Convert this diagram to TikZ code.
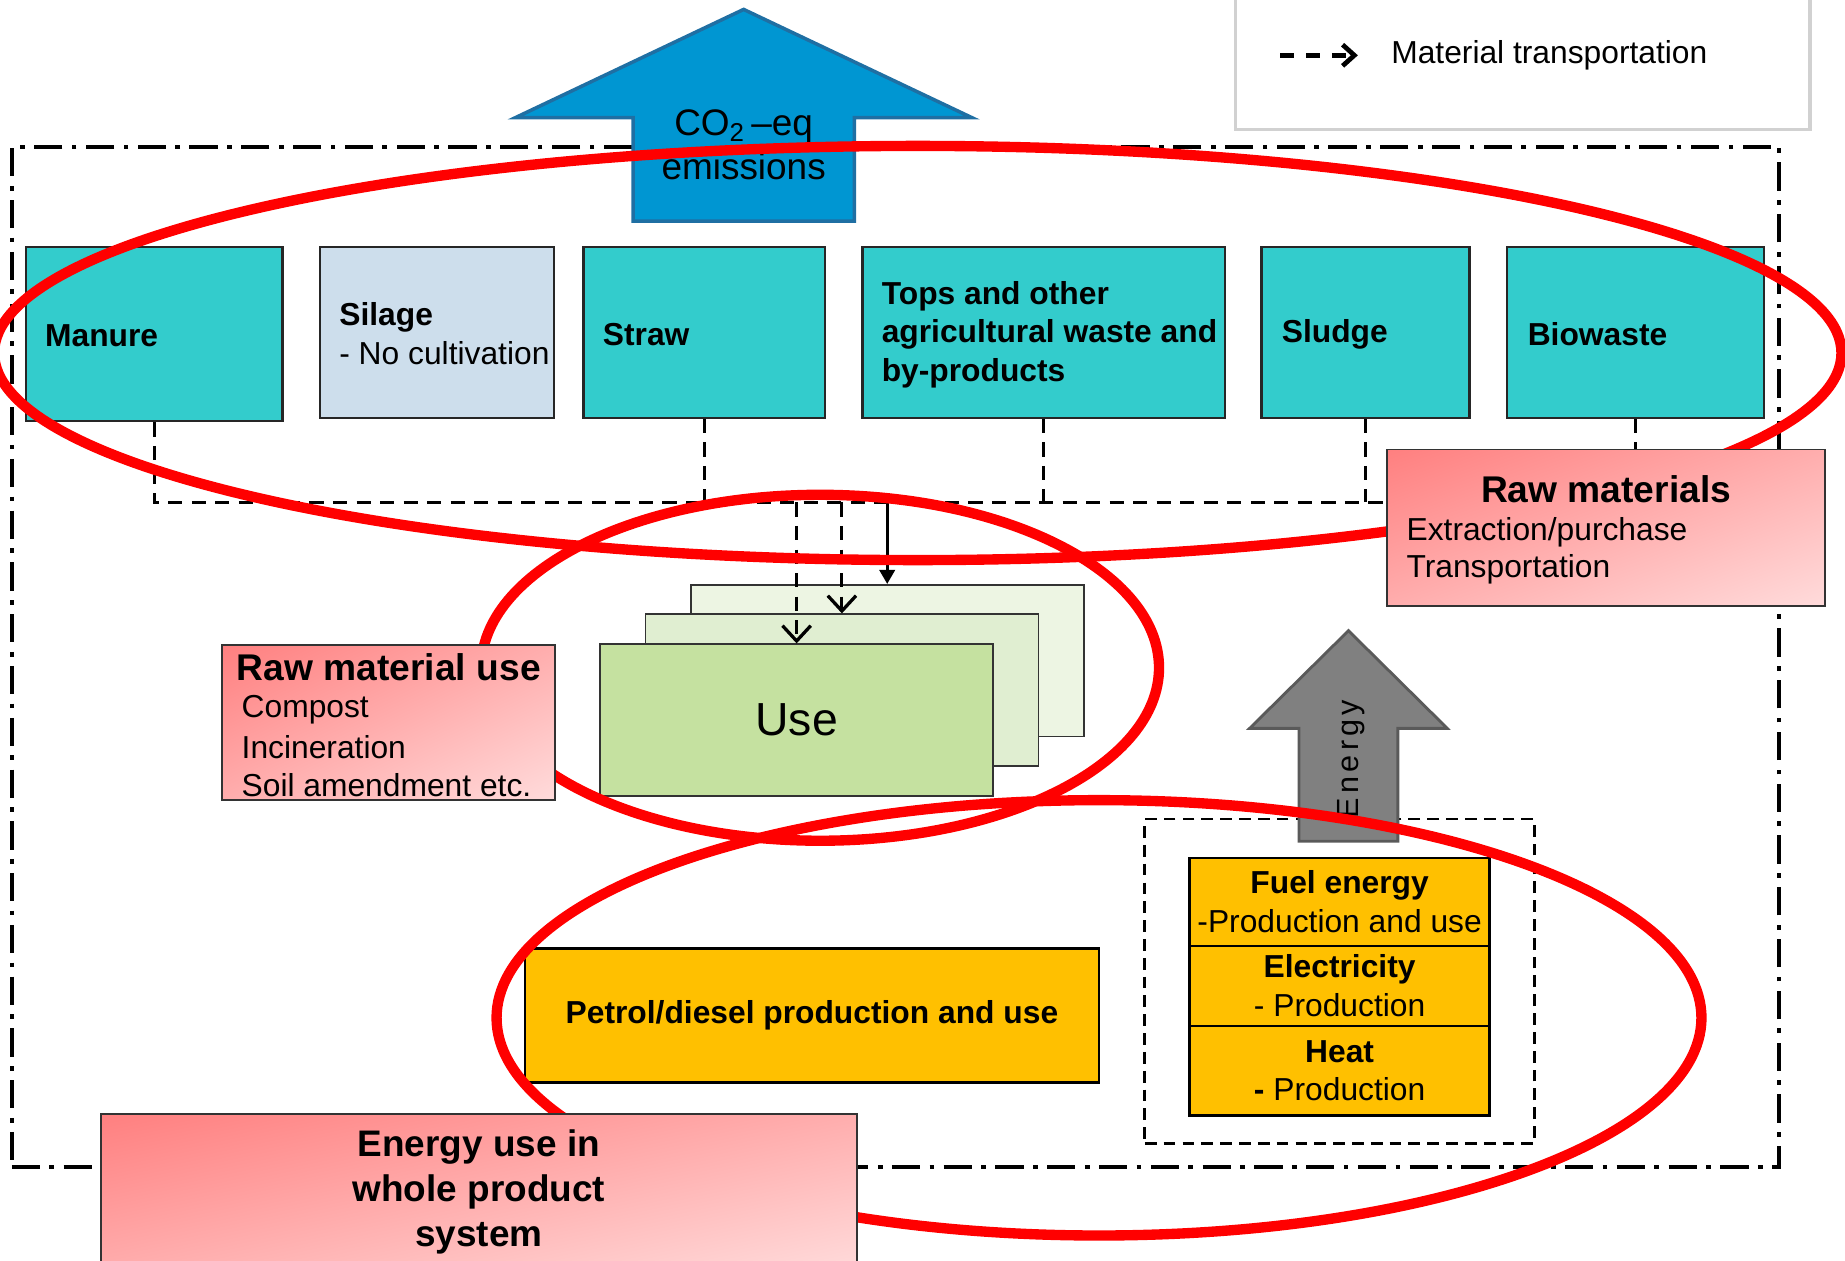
\documentclass[tikz,border=0pt]{standalone}
\usepackage{fontspec}
\setmainfont{Liberation Sans}
\newfontfamily\spacedfont[LetterSpace=14]{Liberation Sans}
\usetikzlibrary{arrows.meta}
\definecolor{tealA}{HTML}{33CCCC}
\definecolor{silageC}{HTML}{CDDEEC}
\definecolor{amberC}{HTML}{FFC000}
\definecolor{useA}{HTML}{C5E1A0}
\definecolor{useB}{HTML}{E0EED1}
\definecolor{useC}{HTML}{EDF5E3}
\definecolor{blueA}{HTML}{0096D2}
\definecolor{blueB}{HTML}{1F6FA3}
\definecolor{grayA}{HTML}{808080}
\definecolor{grayB}{HTML}{5A5A5A}
\definecolor{ringC}{HTML}{FF0000}
% diagonal pink gradient, corner to corner (top-left dark, bottom-right light)
\pgfdeclarefunctionalshading{pinkgrad}{\pgfpoint{0bp}{0bp}}{\pgfpoint{100bp}{100bp}}{}{
  sub 50 add 100 div
  dup 0 lt {pop 0} if dup 1 gt {pop 1} if
  0.36 mul 0.5 add dup 1 3 1 roll
}
\begin{document}
\begin{tikzpicture}[x=0.5pt,y=-0.5pt,
  base/.style={font=\fontsize{13.5}{16.5}\selectfont, inner sep=0pt},
  basebf/.style={font=\fontsize{13.5}{16.5}\selectfont\bfseries, inner sep=0pt},
  title/.style={font=\fontsize{15.8}{19.3}\selectfont\bfseries, inner sep=0pt},
  topbox/.style={draw=black!85, line width=1pt, fill=tealA, inner sep=0pt},
  usebox/.style={draw=black!80, line width=0.7pt, inner sep=0pt, minimum width=167pt, minimum height=64.5pt},
  amberbox/.style={draw=black, line width=1pt, fill=amberC, inner sep=0pt, align=center,
    font=\fontsize{13.5}{16.5}\selectfont, minimum width=127.5pt},
  pinkbox/.style={draw=black!80, line width=0.8pt, shading=pinkgrad, inner sep=0pt},
  frame/.style={draw=black, line width=1.5pt, dash pattern=on 12pt off 4pt on 2pt off 4pt, inner sep=0pt},
  conn/.style={draw=black, line width=1.3pt, dash pattern=on 6pt off 4pt},
  vtip/.style={-{Straight Barb[length=6.5pt,width=12pt,line width=1.4pt]}},
  ring/.style={draw=ringC, line width=4.4pt},
]
\useasboundingbox (0,0) rectangle (1568,1071);

% outer dash-dot frame
\node[frame, minimum width=751pt, minimum height=433.5pt] (frame) at (761,558.5) {};

% legend
\node[draw=black!18, line width=1.6pt, fill=white, minimum width=244pt, minimum height=62pt, inner sep=0pt] (legend) at (1294,48) {};
\coordinate (lgA) at (1088,47);
\coordinate (lgB) at (1154,47);
\draw[line width=2pt, dash pattern=on 6pt off 5pt, -{Straight Barb[length=5pt,width=9pt,line width=2pt]}] (lgA) -- (lgB);
\node[base, anchor=west] (lgtext) at (1182,47) {Material transportation};

% top boxes
\node[topbox, minimum width=109pt, minimum height=74pt] (manure) at (131,284) {};
\node[topbox, fill=silageC, minimum width=99.5pt, minimum height=72.5pt] (silage) at (371.5,282.5) {};
\node[topbox, minimum width=102.5pt, minimum height=72.5pt] (straw) at (598.5,282.5) {};
\node[topbox, minimum width=154pt, minimum height=72.5pt] (tops) at (887,282.5) {};
\node[topbox, minimum width=88.5pt, minimum height=72.5pt] (sludge) at (1160.5,282.5) {};
\node[topbox, minimum width=109pt, minimum height=72.5pt] (bio) at (1390,282.5) {};

\node[basebf, anchor=west] (manureT) at (38,285) {Manure};
\node[base, anchor=west, align=left] (silageT) at (288,283.5) {\textbf{Silage}\\- No cultivation};
\node[basebf, anchor=west] (strawT) at (512,284) {Straw};
\node[basebf, anchor=west, align=left] (topsT) at (749,284.5) {Tops and other\\agricultural waste and\\by-products};
\node[basebf, anchor=west] (sludgeT) at (1089,284) {Sludge};
\node[basebf, anchor=west] (bioT) at (1298,284) {Biowaste};

% use stack
\node[usebox, fill=useC] (use3) at (754,561.5) {};
\node[usebox, fill=useB] (use2) at (715.5,586.5) {};
\node[usebox, fill=useA, font=\fontsize{19.7}{23}\selectfont] (use1) at (677,612) {\raisebox{-1.5pt}{Use}};

% petrol
\node[amberbox, minimum width=244pt, minimum height=57pt, font=\fontsize{13.5}{16.5}\selectfont\bfseries] (petrol) at (690,863) {\raisebox{-1.5pt}{Petrol/diesel production and use}};

% dashed energy frame
\node[draw=black, line width=1.2pt, dash pattern=on 5pt off 3pt, minimum width=165.5pt, minimum height=138pt, inner sep=0pt] (eframe) at (1138.5,834) {};

% fuel stack
\node[amberbox, minimum height=37.5pt] (fuel) at (1138.5,766.5) {\textbf{Fuel energy}\\-Production and use};
\node[amberbox, minimum height=34pt] (elec) at (1138.5,838) {\textbf{Electricity}\\- Production};
\node[amberbox, minimum height=38pt] (heat) at (1138.5,910) {\textbf{Heat}\\\textbf{-} Production};

% connectors
\coordinate (busR) at (1190,427);
\draw[conn] (manure.south) |- (busR);
\draw[conn] (straw.south) -- (straw.south |- busR);
\draw[conn] (tops.south) -- (tops.south |- busR);
\draw[conn] (sludge.south) -- (sludge.south |- busR);
\draw[conn] (bio.south) -- (bio.south |- busR);
\draw[conn, vtip] (use1.north |- busR) -- (use1.north);
\draw[conn, vtip] (use2.north |- busR) -- (use2.north);
\draw[line width=1.3pt, -{Triangle[length=6pt,width=6.5pt]}] (use3.north |- busR) -- (use3.north);

% CO2 arrow
\filldraw[fill=blueA, draw=blueB, line width=1.5pt] (632,8) -- (826,100) -- (726,100) -- (726,188) -- (538,188) -- (538,100) -- (438,100) -- cycle;
\node[font=\fontsize{15.7}{19}\selectfont, align=center, inner sep=0pt] (co2) at (632,123) {CO\textsubscript{2}\,–eq\\emissions};

% energy arrow
\filldraw[fill=grayA, draw=grayB, line width=1.2pt] (1146,536) -- (1230,619) -- (1188,619) -- (1188,715) -- (1104,715) -- (1104,619) -- (1062,619) -- cycle;
\node[rotate=90, inner sep=0pt, font=\spacedfont\fontsize{13}{15}\selectfont] (energyT) at (1148,645) {Energy};

% red rings
\draw[ring] (780,300) ellipse [x radius=392.5pt, y radius=88pt];
\draw[ring] (697,567.5) ellipse [x radius=144pt, y radius=73.5pt];
\draw[ring] (934,865) ellipse [x radius=256pt, y radius=92.5pt];

% pink label boxes
\node[pinkbox, minimum width=186pt, minimum height=66.5pt] (rawmat) at (1365,448.5) {};
\node[title] (rawmatT) at (1365,416) {Raw materials};
\node[base, anchor=west] (rawmat1) at (1195,452) {Extraction/purchase};
\node[base, anchor=west] (rawmat2) at (1195,484) {Transportation};

\node[pinkbox, minimum width=141.5pt, minimum height=66pt] (rawuse) at (330.5,614) {};
\node[title] (rawuseT) at (330.5,567) {Raw material use};
\node[base, anchor=west] (rawuse1) at (205,603) {Compost};
\node[base, anchor=west] (rawuse2) at (205,635) {Incineration};
\node[base, anchor=west] (rawuse3) at (205,667) {Soil amendment etc.};

\node[pinkbox, minimum width=321pt, minimum height=67pt] (enuse) at (407,1014) {};
\node[title, align=center, font=\fontsize{15.7}{19.25}\selectfont\bfseries] (enuseT) at (407,1013) {Energy use in\\whole product\\system};
\end{tikzpicture}
\end{document}
